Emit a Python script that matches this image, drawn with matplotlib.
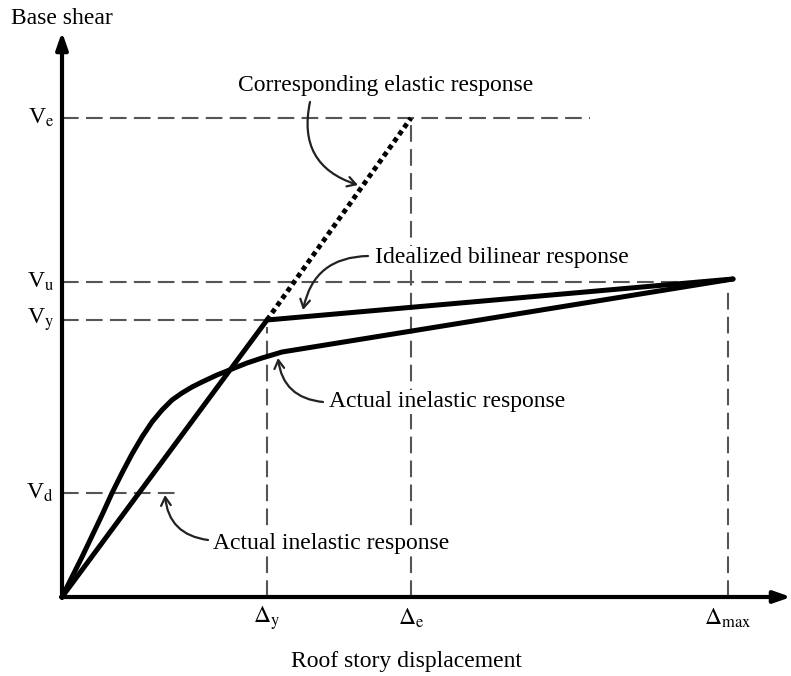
import matplotlib
matplotlib.use("Agg")
import matplotlib.pyplot as plt

plt.rcParams["font.family"] = ["Liberation Serif", "DejaVu Serif"]
plt.rcParams["mathtext.fontset"] = "stix"

# values (arbitrary units, origin at the axes corner)
V_e, V_u, V_y, V_d = 479, 315, 277, 104
D_y, D_e, D_max = 205, 349, 666

bilinear_x = [0, D_y, 671]
bilinear_y = [0, V_y, 318]

elastic_x = [D_y, D_e]
elastic_y = [V_y, V_e]

actual_x = [0, 10, 20, 30, 40, 50, 60, 70, 80, 90, 100, 110, 120, 130, 140,
            155, 170, 185, 200, 220, 671]
actual_y = [0, 20, 40, 61, 82, 104, 124, 143, 160, 175, 187, 197, 204, 210,
            215, 222, 228, 234, 239, 245, 318]

v_labels = [r"V$_{\mathrm{e}}$", r"V$_{\mathrm{u}}$", r"V$_{\mathrm{y}}$", r"V$_{\mathrm{d}}$"]
d_labels = [r"$\Delta_{\mathrm{y}}$", r"$\Delta_{\mathrm{e}}$", r"$\Delta_{\mathrm{max}}$"]

fig = plt.figure(figsize=(7.91, 6.76), dpi=100)
ax = fig.add_axes([0, 0, 1, 1])
ax.set_xlim(-62, 729)
ax.set_ylim(-79, 597)
ax.axis("off")

dash = dict(color="#555555", lw=1.5, dashes=(8, 3.5))

# horizontal guide lines
ax.plot([0, 528], [V_e, V_e], **dash)
ax.plot([0, 668], [V_u, V_u], **dash)
ax.plot([0, D_y], [V_y, V_y], **dash)
ax.plot([0, 113], [V_d, V_d], **dash)

# vertical guide lines
ax.plot([D_y, D_y], [0, 270], **dash)
ax.plot([D_e, D_e], [0, V_e], **dash)
ax.plot([D_max, D_max], [0, 308], **dash)

# axes with arrows
ax.annotate("", xy=(0, 565), xytext=(0, -1),
            arrowprops=dict(arrowstyle="-|>,head_length=1.0,head_width=0.35",
                            lw=3, color="black", shrinkA=0, shrinkB=0))
ax.annotate("", xy=(729, 0), xytext=(-1, 0),
            arrowprops=dict(arrowstyle="-|>,head_length=1.0,head_width=0.35",
                            lw=3, color="black", shrinkA=0, shrinkB=0))

# response curves
ax.plot(bilinear_x, bilinear_y, color="black", lw=3.6, solid_capstyle="round",
        solid_joinstyle="miter")
ax.plot(actual_x, actual_y, color="black", lw=3.6, solid_capstyle="round",
        solid_joinstyle="round")
ax.plot(elastic_x, elastic_y, color="black", lw=3.5, linestyle=(0, (1, 0.8)))

# tick-like labels
for v, lab in zip([V_e, V_u, V_y, V_d], v_labels):
    ax.text(-8, v, lab, ha="right", va="center", fontsize=17)
for d, lab in zip([D_y, D_e, D_max], d_labels):
    ax.text(d, -21, lab, ha="center", va="center", fontsize=17)

ax.text(0, 579, "Base shear", ha="center", va="center", fontsize=17)
ax.text(344, -65, "Roof story displacement", ha="center", va="center", fontsize=17)

# annotations
box = dict(facecolor="white", edgecolor="none", pad=1)
arrow = dict(arrowstyle="->,head_length=0.6,head_width=0.35", color="#222222",
             lw=1.6, shrinkA=0, shrinkB=0)
ax.text(324, 512, "Corresponding elastic response", ha="center", va="center",
        fontsize=17, bbox=box)
ax.annotate("", xy=(296, 412), xytext=(248, 495),
            arrowprops=dict(arrow, connectionstyle="arc3,rad=0.45"))

ax.text(313, 339, "Idealized bilinear response", ha="left", va="center",
        fontsize=17, bbox=box)
ax.annotate("", xy=(241, 287), xytext=(306, 341),
            arrowprops=dict(arrow, connectionstyle="arc3,rad=0.4"))

ax.text(267, 195, "Actual inelastic response", ha="left", va="center",
        fontsize=17, bbox=box)
ax.annotate("", xy=(216, 239), xytext=(261, 195),
            arrowprops=dict(arrow, connectionstyle="arc3,rad=-0.4"))

ax.text(151, 54, "Actual inelastic response", ha="left", va="center",
        fontsize=17, bbox=box)
ax.annotate("", xy=(103, 102), xytext=(146, 57),
            arrowprops=dict(arrow, connectionstyle="arc3,rad=-0.4"))

fig.savefig("out.png", dpi=100, facecolor="white")
